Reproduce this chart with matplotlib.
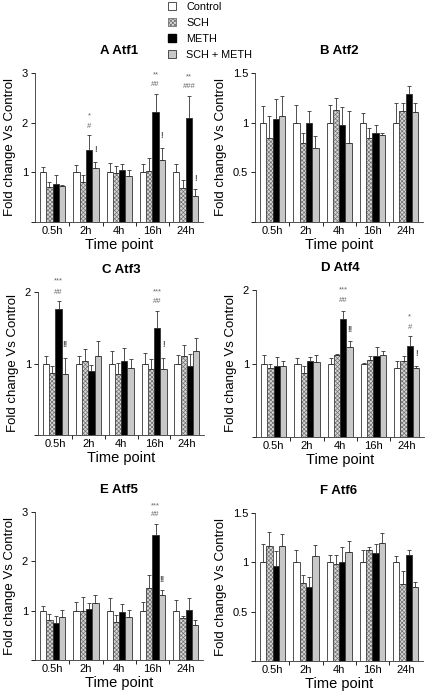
import numpy as np
import matplotlib
matplotlib.use('Agg')
import matplotlib.pyplot as plt
from matplotlib.patches import Patch

plt.rcParams['font.family'] = ['Liberation Sans', 'DejaVu Sans']
plt.rcParams['hatch.linewidth'] = 0.5

groups = ['0.5h', '2h', '4h', '16h', '24h']
treatments = ['Control', 'SCH', 'METH', 'SCH + METH']

# means (rows: Control, SCH, METH, SCH + METH) and top of error bars
atf1_mean = [[1.0, 1.0, 1.0, 1.0, 1.0],
             [0.70, 0.81, 0.98, 1.02, 0.68],
             [0.76, 1.45, 1.04, 2.22, 2.10],
             [0.72, 1.08, 0.92, 1.25, 0.53]]
atf1_top = [[1.10, 1.14, 1.18, 1.17, 1.17],
            [0.80, 0.95, 1.13, 1.28, 0.84],
            [0.95, 1.75, 1.17, 2.57, 2.53],
            [0.75, 1.20, 1.04, 1.50, 0.67]]

atf2_mean = [[1.0, 1.0, 1.0, 1.0, 1.0],
             [0.85, 0.80, 1.13, 0.85, 1.12],
             [1.04, 1.00, 0.98, 0.90, 1.29],
             [1.07, 0.75, 0.80, 0.88, 1.11]]
atf2_top = [[1.17, 1.18, 1.18, 1.10, 1.20],
            [1.07, 0.90, 1.25, 0.95, 1.20],
            [1.24, 1.12, 1.16, 0.98, 1.37],
            [1.27, 0.87, 1.12, 0.90, 1.20]]

atf3_mean = [[1.0, 1.0, 1.0, 1.0, 1.0],
             [0.87, 1.03, 0.85, 0.92, 1.10],
             [1.76, 0.90, 1.04, 1.49, 0.96],
             [0.86, 1.10, 0.94, 0.92, 1.17]]
atf3_top = [[1.10, 1.10, 1.17, 1.14, 1.12],
            [0.97, 1.20, 1.01, 1.06, 1.26],
            [1.88, 0.98, 1.22, 1.74, 1.13],
            [1.08, 1.32, 1.06, 1.08, 1.35]]

atf4_mean = [[1.0, 1.0, 1.0, 1.0, 0.94],
             [0.94, 0.87, 1.11, 1.05, 1.03],
             [0.96, 1.03, 1.60, 1.10, 1.24],
             [0.97, 1.02, 1.22, 1.12, 0.94]]
atf4_top = [[1.12, 1.08, 1.07, 1.01, 1.03],
            [1.00, 0.96, 1.13, 1.10, 1.10],
            [1.09, 1.09, 1.71, 1.23, 1.37],
            [1.04, 1.12, 1.31, 1.17, 0.97]]

atf5_mean = [[1.0, 1.0, 1.0, 1.0, 1.0],
             [0.82, 1.00, 0.78, 1.45, 0.86],
             [0.74, 1.03, 0.98, 2.53, 1.01],
             [0.88, 1.15, 0.87, 1.32, 0.70]]
atf5_top = [[1.10, 1.17, 1.26, 1.17, 1.22],
            [0.94, 1.28, 0.92, 1.72, 0.90],
            [0.90, 1.16, 1.13, 2.75, 1.25],
            [1.02, 1.32, 1.02, 1.41, 0.82]]

atf6_mean = [[1.0, 1.0, 1.0, 1.0, 1.0],
             [1.17, 0.79, 0.98, 1.12, 0.78],
             [0.96, 0.75, 1.00, 1.09, 1.07],
             [1.17, 1.06, 1.10, 1.20, 0.75]]
atf6_top = [[1.19, 1.12, 1.07, 1.13, 1.06],
            [1.31, 0.87, 1.07, 1.16, 0.91],
            [1.11, 0.85, 1.16, 1.19, 1.12],
            [1.29, 1.18, 1.22, 1.30, 0.80]]

# significance marks: (group, bar, text, y)
atf1_marks = [(1, 2, '*', 2.14), (1, 2, '#', 1.92), (1, 3, '!', 1.45),
              (3, 2, '**', 2.97), (3, 2, '##', 2.76), (3, 3, '!', 1.75),
              (4, 2, '**', 2.93), (4, 2, '###', 2.73), (4, 3, '!', 0.88)]
atf3_marks = [(0, 2, '***', 2.15), (0, 2, '##', 1.99), (0, 3, '!!', 1.27),
              (3, 2, '***', 2.0), (3, 2, '##', 1.87), (3, 3, '!', 1.26)]
atf4_marks = [(2, 2, '***', 2.0), (2, 2, '##', 1.86), (2, 3, '!!', 1.46),
              (4, 2, '*', 1.64), (4, 2, '#', 1.49), (4, 3, '!', 1.14)]
atf5_marks = [(3, 2, '***', 3.13), (3, 2, '##', 2.95), (3, 3, '!!', 1.63)]

W, H = 425, 695
panels = [
    ('A Atf1', atf1_mean, atf1_top, atf1_marks, 3, [35, 222, 168, 149]),
    ('B Atf2', atf2_mean, atf2_top, [], 1.5, [255, 222, 168, 149]),
    ('C Atf3', atf3_mean, atf3_top, atf3_marks, 2, [38, 435, 166, 143]),
    ('D Atf4', atf4_mean, atf4_top, atf4_marks, 2, [256, 437, 168, 147]),
    ('E Atf5', atf5_mean, atf5_top, atf5_marks, 3, [35, 660, 168, 148]),
    ('F Atf6', atf6_mean, atf6_top, [], 1.5, [255, 661, 168, 148]),
]

face = ['white', '#d8d8d8', 'black', '#c8c8c8']
hatch = [None, 'xxxxxxxx', None, None]
bw = 0.19
offs = (np.arange(4) - 1.5) * bw
x = np.arange(len(groups))

fig = plt.figure(figsize=(W / 100, H / 100), dpi=100)

for title, mean, top, marks, ymax, (l, b, w, h) in panels:
    ax = fig.add_axes([l / W, 1 - b / H, w / W, h / H])
    mean = np.array(mean)
    top = np.array(top)
    for i in range(4):
        if hatch[i]:
            ax.bar(x + offs[i], mean[i], bw, color=face[i], edgecolor='#707070',
                   hatch=hatch[i], linewidth=0)
            ax.bar(x + offs[i], mean[i], bw, fill=False, edgecolor='#444444',
                   linewidth=0.6)
        else:
            ax.bar(x + offs[i], mean[i], bw, color=face[i], edgecolor='#333333',
                   linewidth=0.6)
        err = top[i] - mean[i]
        ax.errorbar(x + offs[i], mean[i], yerr=[np.zeros(5), err], fmt='none',
                    ecolor='#333333', elinewidth=0.6, capsize=1.5, capthick=0.6)
    for g, k, txt, yy in marks:
        col = '#222222' if '!' in txt else '#666666'
        fs = 6.5 if '!' in txt else 5.5
        ax.text(g + offs[k], yy, txt, ha='center', va='center', fontsize=fs,
                color=col)

    ax.set_xlim(-0.53, 4.52)
    ax.set_ylim(0, ymax)
    if ymax == 1.5:
        ax.set_yticks([0, 0.5, 1, 1.5])
        ax.set_yticklabels(['', '0.5', '1', '1.5'])
    else:
        ax.set_yticks(np.arange(0, ymax + 1))
        ax.set_yticklabels([''] + [str(v) for v in range(1, ymax + 1)])
    ax.set_xticks(x)
    ax.set_xticklabels(groups)
    ax.set_xticks(np.arange(0.5, 4, 1), minor=True)
    ax.tick_params(axis='x', which='major', length=0, labelsize=8, pad=3)
    ax.tick_params(axis='x', which='minor', length=3, width=0.6)
    ax.tick_params(axis='y', length=3, width=0.6, labelsize=8, pad=2)
    for s in ['top', 'right']:
        ax.spines[s].set_visible(False)
    for s in ['left', 'bottom']:
        ax.spines[s].set_linewidth(0.6)
        ax.spines[s].set_color('#333333')
    ax.set_xlabel('Time point', fontsize=10.5, labelpad=1)
    ax.set_ylabel('Fold change Vs Control', fontsize=9.5, labelpad=4)
    ax.set_title(title, fontsize=9.5, fontweight='bold', pad=14)

handles = [Patch(facecolor='white', edgecolor='#333333', linewidth=0.6),
           Patch(facecolor='#d8d8d8', edgecolor='#707070', hatch='xxxxxxxx', linewidth=0.6),
           Patch(facecolor='black', edgecolor='black'),
           Patch(facecolor='#c8c8c8', edgecolor='#333333', linewidth=0.6)]
fig.legend(handles, treatments, loc='upper left', bbox_to_anchor=(168 / W, 1 - 2 / H),
           frameon=False, fontsize=7.8, handlelength=0.7, handleheight=0.7,
           handletextpad=1.0, labelspacing=0.55, borderpad=0, borderaxespad=0)

fig.savefig('out.png', dpi=100)
